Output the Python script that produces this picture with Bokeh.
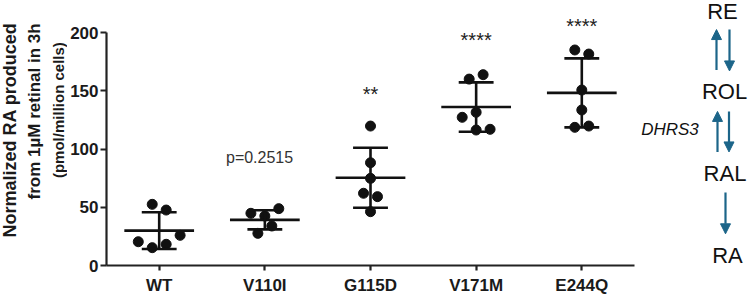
import numpy as np
from bokeh.plotting import figure
from bokeh.layouts import row
from bokeh.models import Range1d, FixedTicker, Label, Arrow, NormalHead, ColumnDataSource
from bokeh.embed import file_html
from bokeh.resources import INLINE

# ---------------- data ----------------
categories = ["WT", "V110I", "G115D", "V171M", "E244Q"]

wt_values    = [52.5, 47.6, 25.9, 20.4, 18.2, 15.3]
v110i_values = [48.8, 44.8, 42.5, 33.9, 27.6]
g115d_values = [119.7, 88.2, 74.8, 62.0, 59.1, 46.2]
v171m_values = [160.0, 163.8, 131.5, 127.2, 116.3, 116.9]
e244q_values = [185.0, 181.5, 150.6, 133.5, 118.6, 119.7]

# horizontal spread of the dots (in dot steps, beeswarm-like)
wt_spread    = [-1, 1, 3, -3, 1, -1]
v110i_spread = [2, -2, 0, 1, -1]
g115d_spread = [0, 0, 0, -1, 1, 0]
v171m_spread = [-1, 1, 0, -2, 0, 2]
e244q_spread = [-1, 1, 0, 0, -1, 1]

mean_values = [29.95, 39.2, 75.35, 136.0, 148.2]
sd_values   = [15.75, 8.2, 25.75, 21.2, 29.6]

annotation_texts = ["", "p=0.2515", "**", "****", "****"]
annotation_y     = [0, 92.7, 149.8, 195.8, 208.2]

y_ticks = [0, 50, 100, 150, 200]

y_title_lines = ["Normalized  RA  produced", "from 1\u00b5M retinal in 3h", "(pmol/million cells)"]
pathway_nodes = ["RE", "ROL", "RAL", "RA"]
enzyme_label = "DHRS3"

# ---------------- layout constants ----------------
TITLE_W = 67
DIAG_W = 110
MAIN_W = 750 - TITLE_W - DIAG_W
H = 301
X0, XS = 156.0, 106.25   # pixel of first category, pixels per category
Y0, YS = 265.0, 1.165    # pixel of y=0, pixels per unit
FRAME_L, FRAME_R = 103, 634


def dx(px):
    return (px - X0) / XS


def dy(py):
    return (Y0 - py) / YS


STEP = 0.066
FONT = "Liberation Sans"
NARROW = "'Liberation Sans Narrow', 'Liberation Sans', sans-serif"
INK = "#111111"

# ---------------- main plot ----------------
p = figure(width=MAIN_W, height=H,
           x_range=Range1d(dx(FRAME_L), dx(FRAME_R)),
           y_range=Range1d(dy(265), dy(0)),
           output_backend="svg", toolbar_location=None,
           min_border_left=FRAME_L - TITLE_W,
           min_border_right=TITLE_W + MAIN_W - FRAME_R,
           min_border_top=0, min_border_bottom=36)
p.outline_line_color = None
p.xgrid.visible = False
p.ygrid.visible = False
p.background_fill_color = "white"
p.border_fill_color = "white"

all_values = [wt_values, v110i_values, g115d_values, v171m_values, e244q_values]
all_spread = [wt_spread, v110i_spread, g115d_spread, v171m_spread, e244q_spread]
xs, ys = [], []
for i, (vals, spr) in enumerate(zip(all_values, all_spread)):
    for v, s in zip(vals, spr):
        xs.append(i + s * STEP)
        ys.append(v)
p.scatter(x=xs, y=ys, size=10, color=INK, line_color=INK)

idx = np.arange(len(categories))
means = np.array(mean_values)
sds = np.array(sd_values)
src = ColumnDataSource(dict(x=idx, m=means, lo=means - sds, hi=means + sds,
                            ml=idx - 0.33, mr=idx + 0.33,
                            cl=idx - 0.165, cr=idx + 0.165))
p.segment(x0="ml", x1="mr", y0="m", y1="m", source=src, line_width=2.6, line_color=INK)
p.segment(x0="x", x1="x", y0="lo", y1="hi", source=src, line_width=2.6, line_color=INK)
p.segment(x0="cl", x1="cr", y0="hi", y1="hi", source=src, line_width=2.6, line_color=INK)
p.segment(x0="cl", x1="cr", y0="lo", y1="lo", source=src, line_width=2.6, line_color=INK)

p.xaxis.ticker = FixedTicker(ticks=list(range(len(categories))))
p.xaxis.major_label_overrides = {i: c for i, c in enumerate(categories)}
p.yaxis.ticker = FixedTicker(ticks=y_ticks)
p.yaxis.bounds = (y_ticks[0], y_ticks[-1])
for ax in (p.xaxis[0], p.yaxis[0]):
    ax.axis_line_width = 2.2
    ax.axis_line_color = "#222222"
    ax.major_tick_line_width = 2.2
    ax.major_tick_line_color = "#222222"
    ax.major_tick_in = 0
    ax.minor_tick_line_color = None
    ax.major_label_text_font = FONT
    ax.major_label_text_font_style = "bold"
    ax.major_label_text_font_size = "17px"
    ax.major_label_text_color = "#1a1a1a"
p.xaxis.major_tick_out = 5
p.yaxis.major_tick_out = 6
p.xaxis.major_label_standoff = 5
p.yaxis.major_label_standoff = 2

for i, (t, yv) in enumerate(zip(annotation_texts, annotation_y)):
    if not t:
        continue
    if t.startswith("p"):
        p.add_layout(Label(x=i - 0.05, y=yv, text=t, text_align="center",
                           text_baseline="middle", text_font=FONT,
                           text_font_size="16px", text_color="#333333"))
    else:
        p.add_layout(Label(x=i, y=yv, y_offset=-3, text=t, text_align="center",
                           text_baseline="alphabetic", text_font=FONT,
                           text_font_size="20px", text_color="#222222"))

# ---------------- y title panel ----------------
t = figure(width=TITLE_W, height=H, x_range=Range1d(0, TITLE_W), y_range=Range1d(-H, 0),
           output_backend="svg", toolbar_location=None, min_border=0)
t.axis.visible = False
t.grid.visible = False
t.outline_line_color = None
title_pos = [(9.5, 141.5, "18px", FONT), (34, 126, "17px", NARROW), (58, 124.5, "15px", NARROW)]
for txt, (px, py, fs, fnt) in zip(y_title_lines, title_pos):
    t.add_layout(Label(x=px, y=-py, text=txt, angle=np.pi / 2,
                       text_align="center", text_baseline="middle",
                       text_font=fnt, text_font_style="bold",
                       text_font_size=fs, text_color="#1a1a1a"))

# ---------------- pathway diagram panel ----------------
DX0 = 750 - DIAG_W
d = figure(width=DIAG_W, height=H, x_range=Range1d(DX0, 750), y_range=Range1d(-H, 0),
           output_backend="svg", toolbar_location=None, min_border=0)
d.axis.visible = False
d.grid.visible = False
d.outline_line_color = None
ARROW = "#1c6589"
node_pos = [(722, 12.5), (724, 103), (724.5, 196.5), (727, 290)]
for txt, (px, py) in zip(pathway_nodes, node_pos):
    d.add_layout(Label(x=px, y=-py, text=txt, text_align="center",
                       text_baseline="middle", text_font=FONT,
                       text_font_size="22px", text_color="#111111"))
d.add_layout(Label(x=669.5, y=-146, text=enzyme_label, text_align="center",
                   text_baseline="middle", text_font=FONT, text_font_style="italic",
                   text_font_size="17px", text_color="#111111"))
arrows = [(716, 79, 716, 33), (729, 33, 729, 80),
          (717, 172, 717, 126), (728.5, 126, 728.5, 172),
          (725, 218, 725, 265)]
for x1, y1, x2, y2 in arrows:
    d.add_layout(Arrow(end=NormalHead(size=10, fill_color=ARROW, line_color=ARROW, line_width=1),
                       x_start=x1, y_start=-y1, x_end=x2, y_end=-y2,
                       line_color=ARROW, line_width=2.2))

layout = row(t, p, d, spacing=0)
open("out.html", "w").write(file_html(layout, INLINE))
